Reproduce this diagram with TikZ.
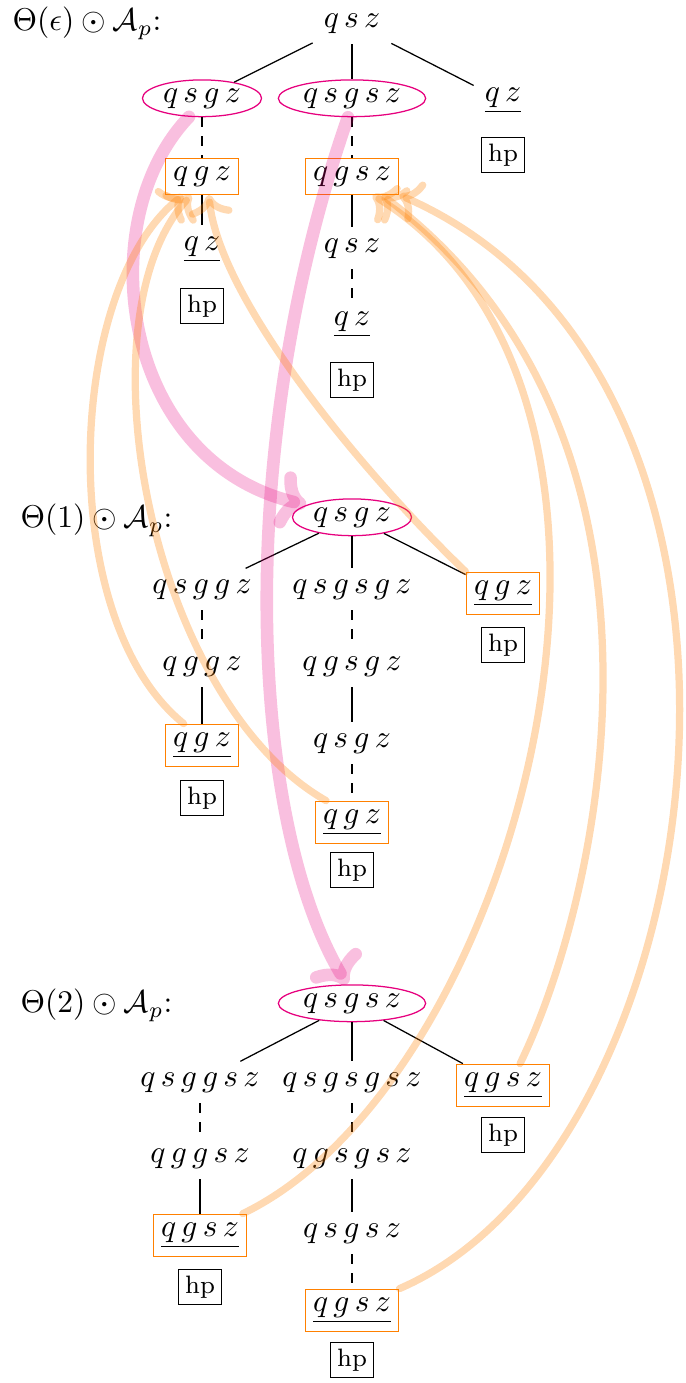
\documentclass[tikz,border=0pt]{standalone}
\usetikzlibrary{shapes.geometric,arrows.meta}
\definecolor{pk}{RGB}{230,0,126}
\definecolor{orng}{RGB}{255,128,0}
\begin{document}
\begin{tikzpicture}[x=0.3175pt,y=-0.3175pt,
  txt/.style={anchor=base, inner sep=3.33pt},
  elnode/.style={ellipse, draw=pk, anchor=base, inner sep=1pt},
  obox/.style={draw=orng, anchor=base, inner xsep=2.5pt, inner ysep=2.6pt},
  hpbox/.style={draw, font=\footnotesize, inner sep=2pt},
  tedge/.style={line width=0.4pt},
  dedge/.style={line width=0.4pt, dashed},
  parrow/.style={draw=pk, draw opacity=0.25, line width=4pt, line cap=round, -{To[round,scale=0.85]}},
  oarrow/.style={draw=orng, draw opacity=0.3, line width=2.3pt, line cap=round, -{To[round,scale=1.0]}},
  lbl/.style={anchor=west, inner sep=0pt}]
\useasboundingbox (0,0) rectangle (685,1383);

% labels
\node[lbl] (lab0) at (12,23) {$\Theta(\epsilon)\odot\mathcal{A}_p$:};
\node[lbl] (lab1) at (20,520) {$\Theta(1)\odot\mathcal{A}_p$:};
\node[lbl] (lab2) at (20,1005) {$\Theta(2)\odot\mathcal{A}_p$:};

% top tree
\node[txt] (t0) at (352,27) {$q\,s\,z$};
\node[elnode] (ta1) at (202,102) {$q\,s\,g\,z$};
\node[elnode] (tb1) at (352,102) {$q\,s\,g\,s\,z$};
\node[txt] (tc1) at (503,101) {$\underline{q\,z}$};
\node[hpbox] (tc2) at (503,155) {hp};
\node[obox] (ta2) at (202,180) {$q\,g\,z$};
\node[txt] (ta3) at (202,250) {$\underline{q\,z}$};
\node[hpbox] (ta4) at (202,306) {hp};
\node[obox] (tb2) at (352,180) {$q\,g\,s\,z$};
\node[txt] (tb3) at (352,252) {$q\,s\,z$};
\node[txt] (tb4) at (352,325) {$\underline{q\,z}$};
\node[hpbox] (tb5) at (352,380) {hp};
\draw[tedge] (t0) -- (ta1);
\draw[tedge] (t0) -- (tb1);
\draw[tedge] (t0) -- (tc1);
\draw[dedge] (ta1) -- (ta2);
\draw[tedge] (ta2) -- (ta3);
\draw[dedge] (tb1) -- (tb2);
\draw[tedge] (tb2) -- (tb3);
\draw[dedge] (tb3) -- (tb4);

% Theta(1) tree
\node[elnode] (ar) at (352,521) {$q\,s\,g\,z$};
\node[txt] (al1) at (202,593) {$q\,s\,g\,g\,z$};
\node[txt] (am1) at (352,593) {$q\,s\,g\,s\,g\,z$};
\node[obox] (ar1) at (503,594) {$\underline{q\,g\,z}$};
\node[hpbox] (ar2) at (503,645) {hp};
\node[txt] (al2) at (202,670) {$q\,g\,g\,z$};
\node[obox] (al3) at (202,746) {$\underline{q\,g\,z}$};
\node[hpbox] (al4) at (202,798) {hp};
\node[txt] (am2) at (352,670) {$q\,g\,s\,g\,z$};
\node[txt] (am3) at (352,747) {$q\,s\,g\,z$};
\node[obox] (am4) at (352,823) {$\underline{q\,g\,z}$};
\node[hpbox] (am5) at (352,870) {hp};
\draw[tedge] (ar) -- (al1);
\draw[tedge] (ar) -- (am1);
\draw[tedge] (ar) -- (ar1);
\draw[dedge] (al1) -- (al2);
\draw[tedge] (al2) -- (al3);
\draw[dedge] (am1) -- (am2);
\draw[tedge] (am2) -- (am3);
\draw[dedge] (am3) -- (am4);

% Theta(2) tree
\node[elnode] (br) at (352,1007) {$q\,s\,g\,s\,z$};
\node[txt] (bl1) at (200,1086) {$q\,s\,g\,g\,s\,z$};
\node[txt] (bm1) at (352,1086) {$q\,s\,g\,s\,g\,s\,z$};
\node[obox] (br1) at (503,1086) {$\underline{q\,g\,s\,z}$};
\node[hpbox] (br2) at (503,1135) {hp};
\node[txt] (bl2) at (200,1162) {$q\,g\,g\,s\,z$};
\node[obox] (bl3) at (200,1236) {$\underline{q\,g\,s\,z}$};
\node[hpbox] (bl4) at (200,1287) {hp};
\node[txt] (bm2) at (352,1162) {$q\,g\,s\,g\,s\,z$};
\node[txt] (bm3) at (352,1237) {$q\,s\,g\,s\,z$};
\node[obox] (bm4) at (352,1311) {$\underline{q\,g\,s\,z}$};
\node[hpbox] (bm5) at (352,1360) {hp};
\draw[tedge] (br) -- (bl1);
\draw[tedge] (br) -- (bm1);
\draw[tedge] (br) -- (br1);
\draw[dedge] (bl1) -- (bl2);
\draw[tedge] (bl2) -- (bl3);
\draw[dedge] (bm1) -- (bm2);
\draw[tedge] (bm2) -- (bm3);
\draw[dedge] (bm3) -- (bm4);

% pink arrows
\draw[parrow] (ta1.235) .. controls (90,220) and (120,460) .. (ar.165);
\draw[parrow] (tb1.258) .. controls (232,450) and (250,820) .. (br.105);

% orange arrows
\draw[oarrow] (al3.130) .. controls (55,620) and (65,290) .. (ta2.225);
\draw[oarrow] (am4.140) .. controls (150,700) and (78,320) .. (ta2.240);
\draw[oarrow] (ar1.north west) .. controls (360,470) and (220,300) .. (ta2.290);
\draw[oarrow] (br1.52) .. controls (600,900) and (705,440) .. (tb2.328);
\draw[oarrow] (bl3.27) .. controls (520,1080) and (700,400) .. (tb2.318);
\draw[oarrow] (bm4.north east) .. controls (720,1150) and (820,380) .. (tb2.south east);
\end{tikzpicture}
\end{document}
